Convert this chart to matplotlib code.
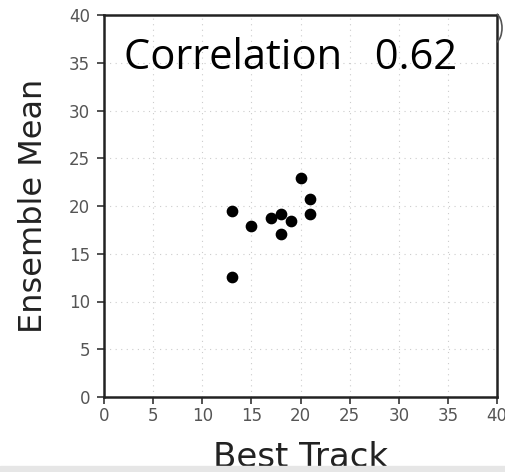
import matplotlib
matplotlib.use("Agg")
import matplotlib.pyplot as plt
from matplotlib.patches import Arc

# values
best_track = [13, 13, 15, 17, 18, 18, 19, 20, 21, 21]
ensemble_mean = [19.5, 12.6, 17.9, 18.7, 19.2, 17.1, 18.4, 22.9, 20.7, 19.2]
ticks = [0, 5, 10, 15, 20, 25, 30, 35, 40]
correlation = 0.62

fig = plt.figure(figsize=(5.06, 4.72), dpi=100)
ax = fig.add_axes([104 / 506, 1 - 397 / 472, 393 / 506, 382 / 472])

ax.scatter(best_track, ensemble_mean, s=55, color='black', zorder=3)

ax.set_xlim(0, 40)
ax.set_ylim(0, 40)
ax.set_xticks(ticks)
ax.set_yticks(ticks)
ax.tick_params(direction='out', length=5, width=1.2, labelsize=12,
               labelcolor='#555555', color='#333333', pad=2)
ax.tick_params(axis='y', pad=5)
ax.grid(True, linestyle=(0, (1, 4)), color='#cccccc', linewidth=0.8)
for sp in ax.spines.values():
    sp.set_linewidth(1.8)
    sp.set_color('#222222')

ax.set_xlabel('Best Track', fontsize=24.5, color='#222222', labelpad=12)
ax.set_ylabel('Ensemble Mean', fontsize=23, color='#222222', labelpad=14.5)

ax.text(0.05, 0.887, f'Correlation   {correlation}', transform=ax.transAxes,
        fontsize=30, family='Open Sans', color='black', va='center', ha='left')

# leftover bracket-like arc at the top right corner of the screenshot
fig.patches.append(Arc((494 / 506, 1 - 28 / 472), 16 / 506, 30 / 472,
                       theta1=-80, theta2=80, transform=fig.transFigure,
                       color='#555555', linewidth=1.2))

# light gray strip along the bottom edge
fig.patches.append(plt.Rectangle((0, 0), 1, 6 / 472, transform=fig.transFigure,
                                 color='#e6e6e6', zorder=10))

fig.savefig('out.png', dpi=100)
